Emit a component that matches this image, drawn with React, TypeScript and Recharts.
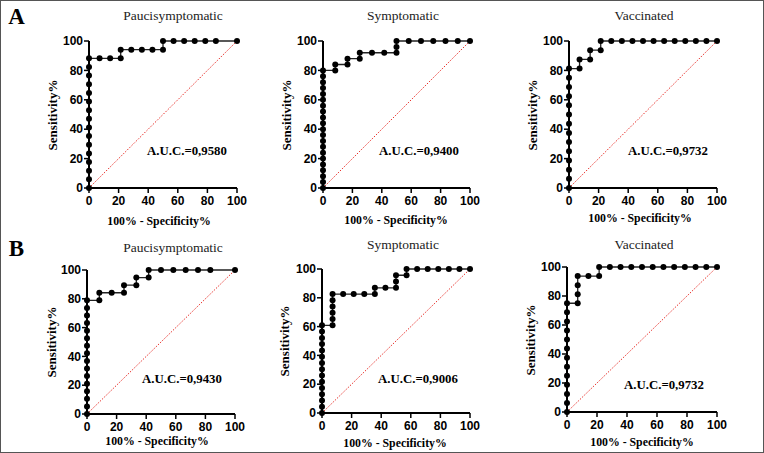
import React from 'react'
import { LineChart, Line, XAxis, YAxis, ReferenceLine } from 'recharts'

// ROC points: [100% - specificity, sensitivity]
const aPauci: [number, number][] = [
  [0, 0], [0, 5.88], [0, 11.76], [0, 17.65], [0, 23.53], [0, 29.41], [0, 35.29], [0, 41.18],
  [0, 47.06], [0, 52.94], [0, 58.82], [0, 64.71], [0, 70.59], [0, 76.47], [0, 82.35], [0, 88.24],
  [7.14, 88.24], [14.29, 88.24], [21.43, 88.24], [21.43, 94.12], [28.57, 94.12], [35.71, 94.12],
  [42.86, 94.12], [50, 94.12], [50, 100], [57.14, 100], [64.29, 100], [71.43, 100], [78.57, 100],
  [85.71, 100], [100, 100],
]
const aSympt: [number, number][] = [
  [0, 0], [0, 4], [0, 8], [0, 12], [0, 16], [0, 20], [0, 24], [0, 28], [0, 32], [0, 36], [0, 40],
  [0, 44], [0, 48], [0, 52], [0, 56], [0, 60], [0, 64], [0, 68], [0, 72], [0, 76], [0, 80],
  [8.33, 80], [8.33, 84], [16.67, 84], [16.67, 88], [25, 88], [25, 92], [33.33, 92], [41.67, 92],
  [50, 92], [50, 96], [50, 100], [58.33, 100], [66.67, 100], [75, 100], [83.33, 100], [91.67, 100],
  [100, 100],
]
const aVacc: [number, number][] = [
  [0, 0], [0, 6.25], [0, 12.5], [0, 18.75], [0, 25], [0, 31.25], [0, 37.5], [0, 43.75], [0, 50],
  [0, 56.25], [0, 62.5], [0, 68.75], [0, 75], [0, 81.25], [7.14, 81.25], [7.14, 87.5], [14.29, 87.5],
  [14.29, 93.75], [21.43, 93.75], [21.43, 100], [28.57, 100], [35.71, 100], [42.86, 100], [50, 100],
  [57.14, 100], [64.29, 100], [71.43, 100], [78.57, 100], [85.71, 100], [92.86, 100], [100, 100],
]
const bPauci: [number, number][] = [
  [0, 0], [0, 5.26], [0, 10.53], [0, 15.79], [0, 21.05], [0, 26.32], [0, 31.58], [0, 36.84],
  [0, 42.11], [0, 47.37], [0, 52.63], [0, 57.89], [0, 63.16], [0, 68.42], [0, 73.68], [0, 78.95],
  [8.33, 78.95], [8.33, 84.21], [16.67, 84.21], [25, 84.21], [25, 89.47], [33.33, 89.47],
  [33.33, 94.74], [41.67, 94.74], [41.67, 100], [50, 100], [58.33, 100], [66.67, 100], [75, 100],
  [83.33, 100], [100, 100],
]
const bSympt: [number, number][] = [
  [0, 0], [0, 4.35], [0, 8.7], [0, 13.04], [0, 17.39], [0, 21.74], [0, 26.09], [0, 30.43],
  [0, 34.78], [0, 39.13], [0, 43.48], [0, 47.83], [0, 52.17], [0, 56.52], [0, 60.87],
  [7.14, 60.87], [7.14, 65.22], [7.14, 69.57], [7.14, 73.91], [7.14, 78.26], [7.14, 82.61],
  [14.29, 82.61], [21.43, 82.61], [28.57, 82.61], [35.71, 82.61], [35.71, 86.96], [42.86, 86.96],
  [50, 86.96], [50, 91.3], [50, 95.65], [57.14, 95.65], [57.14, 100], [64.29, 100], [71.43, 100],
  [78.57, 100], [85.71, 100], [92.86, 100], [100, 100],
]
const bVacc: [number, number][] = [
  [0, 0], [0, 6.25], [0, 12.5], [0, 18.75], [0, 25], [0, 31.25], [0, 37.5], [0, 43.75], [0, 50],
  [0, 56.25], [0, 62.5], [0, 68.75], [0, 75], [7.14, 75], [7.14, 81.25], [7.14, 87.5],
  [7.14, 93.75], [14.29, 93.75], [21.43, 93.75], [21.43, 100], [28.57, 100], [35.71, 100],
  [42.86, 100], [50, 100], [57.14, 100], [64.29, 100], [71.43, 100], [78.57, 100], [85.71, 100],
  [92.86, 100], [100, 100],
]

const titles = ['Paucisymptomatic', 'Symptomatic', 'Vaccinated']
const aucs = ['0,9580', '0,9400', '0,9732', '0,9430', '0,9006', '0,9732']
const axisTicks = [0, 20, 40, 60, 80, 100]

const SERIF = "'Liberation Serif', 'Times New Roman', serif"
const SANS = "'Liberation Sans', Arial, sans-serif"

const YW = 30
const XH = 24
const MT = 6
const MR = 16

// plot-area boxes + label positions, in page pixels
const panels = [
  { pts: aPauci, l: 88, r: 236, t: 40, b: 187, title: [172, 15], xl: [158, 221], yl: 51, auc: [186, 149.5] },
  { pts: aSympt, l: 322, r: 469, t: 40, b: 187, title: [402, 15], xl: [395, 219.5], yl: 285, auc: [418, 149.5] },
  { pts: aVacc, l: 568, r: 716, t: 40, b: 187, title: [643, 15], xl: [639, 218], yl: 531, auc: [667, 150] },
  { pts: bPauci, l: 86, r: 234, t: 269, b: 413, title: [172, 247], xl: [156, 440.5], yl: 50, auc: [181, 377.5] },
  { pts: bSympt, l: 321, r: 469, t: 268, b: 412, title: [402, 244], xl: [394, 442.5], yl: 283, auc: [417, 378] },
  { pts: bVacc, l: 566, r: 716, t: 266, b: 411, title: [643, 243.5], xl: [641, 441.5], yl: 529, auc: [663, 383.5] },
]

const centered = (x: number, y: number, extra: React.CSSProperties = {}): React.CSSProperties => ({
  position: 'absolute', left: x, top: y, transform: 'translate(-50%, -50%)', whiteSpace: 'nowrap', lineHeight: 1, ...extra,
})

function Panel({ p, i }: { p: typeof panels[number]; i: number }) {
  const w = p.r - p.l
  const h = p.b - p.t
  const data = p.pts.map(([x, y]) => ({ x, y }))
  const tick = { fontSize: 12, fontWeight: 700, fill: '#000', fontFamily: SANS }
  return (
    <>
      <div style={{ position: 'absolute', left: p.l - YW, top: p.t - MT }}>
        <LineChart width={w + YW + MR} height={h + MT + XH} data={data} margin={{ top: MT, right: MR, left: 0, bottom: 0 }}>
          <XAxis
            type="number" dataKey="x" domain={[0, 100]} ticks={axisTicks} interval={0} height={XH}
            tick={tick} tickSize={5} tickMargin={3}
            axisLine={{ stroke: '#000', strokeWidth: 2 }} tickLine={{ stroke: '#000', strokeWidth: 1.5 }}
          />
          <YAxis
            type="number" domain={[0, 100]} ticks={axisTicks} interval={0} width={YW}
            tick={tick} tickSize={5} tickMargin={1}
            axisLine={{ stroke: '#000', strokeWidth: 2 }} tickLine={{ stroke: '#000', strokeWidth: 1.5 }}
          />
          <ReferenceLine
            segment={[{ x: 0, y: 0 }, { x: 100, y: 100 }]}
            stroke="#e8302a" strokeWidth={1} strokeDasharray="1.5 1.5"
          />
          <Line
            type="linear" dataKey="y" stroke="#222" strokeWidth={1.3}
            dot={{ r: 3, fill: '#000', stroke: '#000', strokeWidth: 0 }}
            activeDot={false} isAnimationActive={false}
          />
        </LineChart>
      </div>
      <div style={centered(p.title[0], p.title[1], { fontFamily: SERIF, fontSize: 13.5, color: '#222' })}>
        {titles[i % 3]}
      </div>
      <div style={centered(p.xl[0], p.xl[1], { fontFamily: SERIF, fontSize: 11.8, fontWeight: 700 })}>
        100% - Specificity%
      </div>
      <div style={centered(p.yl, (p.t + p.b) / 2, { fontFamily: SERIF, fontSize: 13, fontWeight: 700, transform: 'translate(-50%, -50%) rotate(-90deg)' })}>
        Sensitivity%
      </div>
      <div style={centered(p.auc[0], p.auc[1], { fontFamily: SERIF, fontSize: 12.8, fontWeight: 700 })}>
        A.U.C.={aucs[i]}
      </div>
    </>
  )
}

export default function App() {
  return (
    <div style={{ position: 'absolute', left: 0, top: 0, width: 764, height: 453, background: '#fff', border: '1px solid #555', boxSizing: 'border-box', overflow: 'hidden' }}>
      <div style={centered(15.5, 15, { fontFamily: SERIF, fontSize: 23, fontWeight: 700 })}>A</div>
      <div style={centered(15.5, 247, { fontFamily: SERIF, fontSize: 23, fontWeight: 700 })}>B</div>
      {panels.map((p, i) => (
        <Panel key={i} p={p} i={i} />
      ))}
    </div>
  )
}
